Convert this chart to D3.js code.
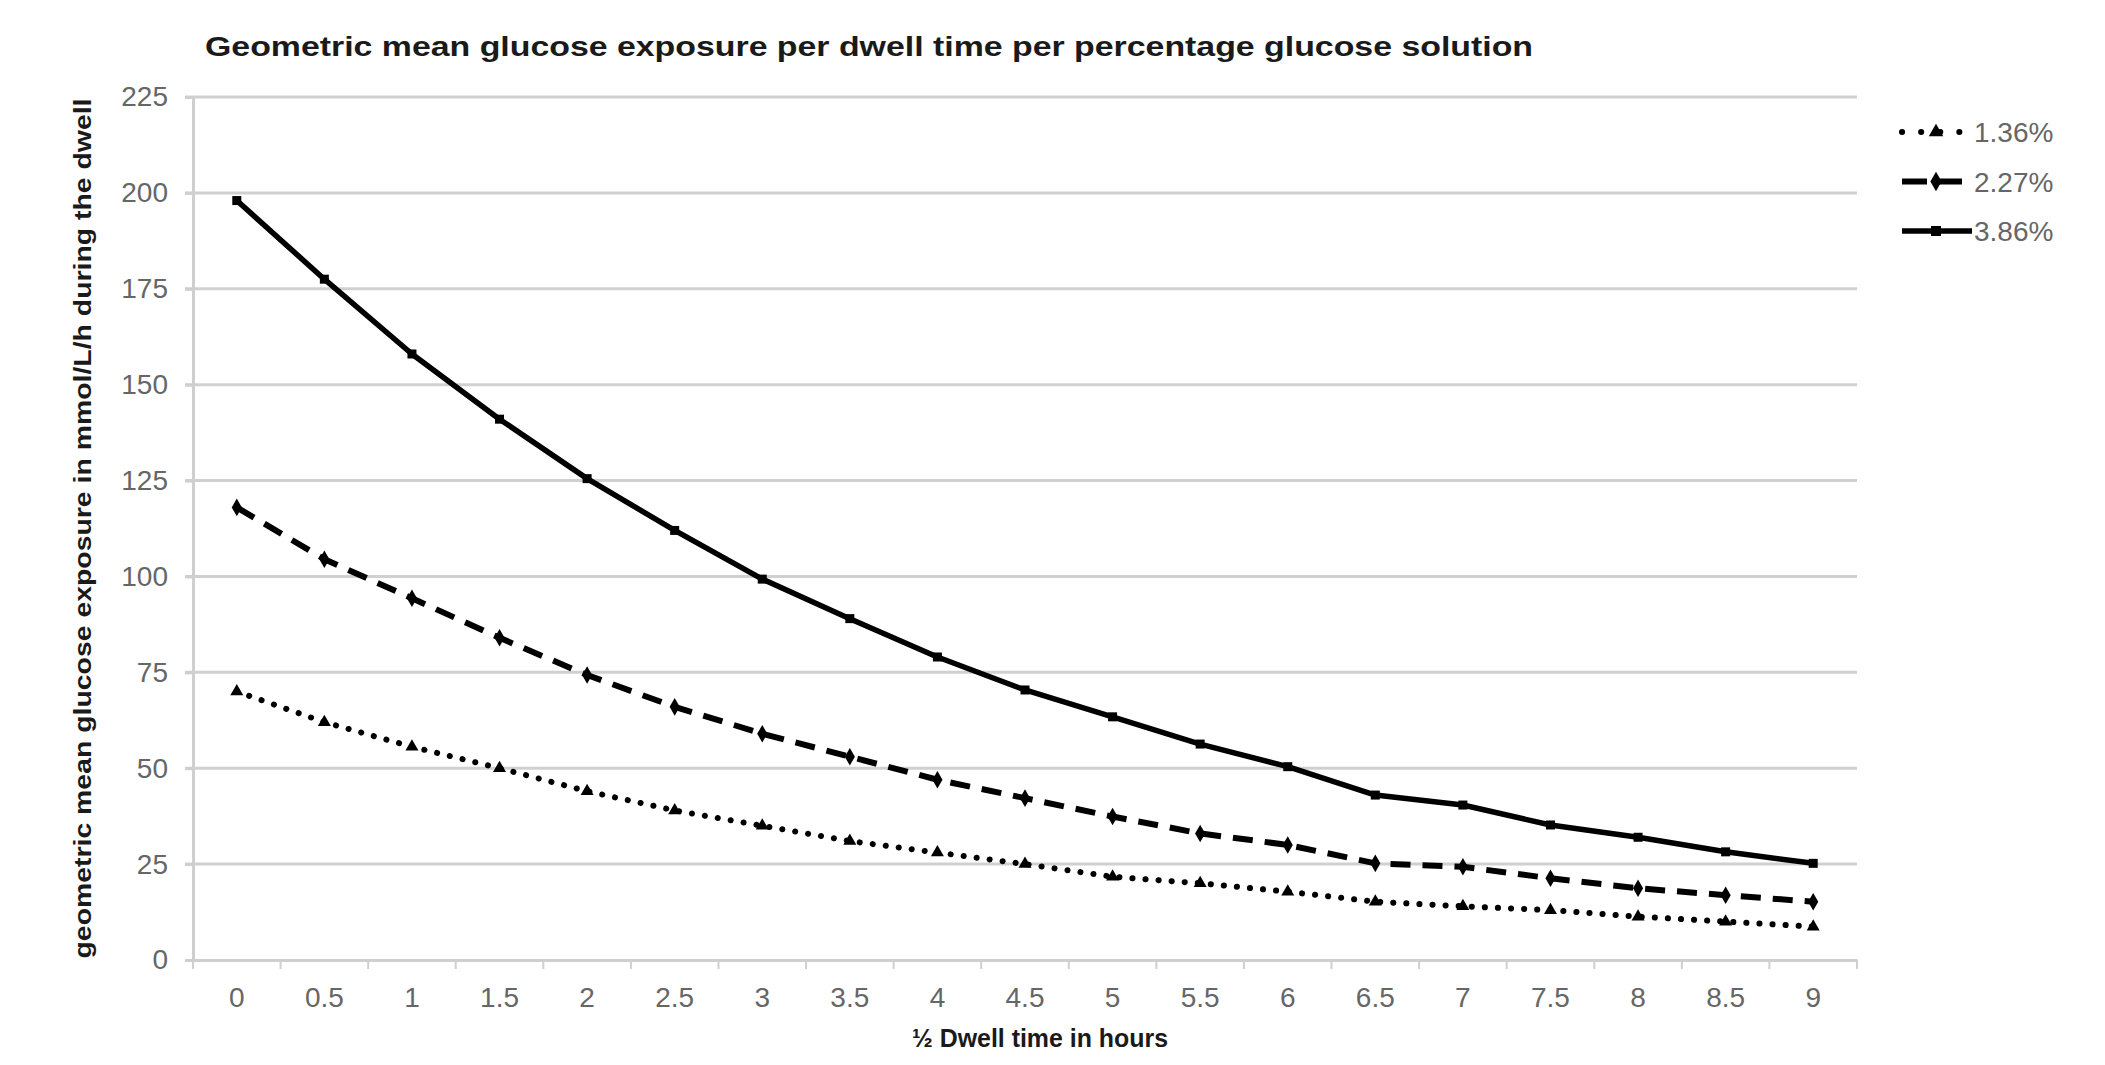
<!DOCTYPE html>
<html>
<head>
<meta charset="utf-8">
<script src="https://cdn.jsdelivr.net/npm/d3@7"></script>
<style>
  body { margin: 0; background: #fff; overflow: hidden; }
  svg { display: block; }
</style>
</head>
<body>
<div id="chart"></div>
<script>
// half dwell time categories
var hours = ["0","0.5","1","1.5","2","2.5","3","3.5","4","4.5","5","5.5","6","6.5","7","7.5","8","8.5","9"];
var yTicks = [0, 25, 50, 75, 100, 125, 150, 175, 200, 225];

// geometric mean glucose exposure, per solution
var glucose136 = [70, 62, 55.6, 50, 44, 39, 35, 31, 28, 25, 21.7, 20, 17.8, 15.2, 14, 13, 11.3, 10, 8.7];
var glucose227 = [118, 104.5, 94.3, 84, 74.3, 66, 59, 53, 47, 42.2, 37.4, 33, 30, 25.2, 24.3, 21.3, 18.7, 16.9, 15.2];
var glucose386 = [198, 177.5, 158, 141, 125.5, 112, 99.3, 89, 79, 70.4, 63.4, 56.3, 50.4, 43, 40.4, 35.2, 32, 28.2, 25.2];

var seriesNames = ["1.36%", "2.27%", "3.86%"];

var font = "Liberation Sans, Arial, sans-serif";
var width = 2105, height = 1065;
var margin = {top: 97, right: 248, bottom: 105, left: 193};
var innerWidth = width - margin.left - margin.right,
    innerHeight = height - margin.top - margin.bottom;

var series = [
  {name: seriesNames[0], values: glucose136, dash: "0.1 13", width: 6, cap: "round", marker: "triangle"},
  {name: seriesNames[1], values: glucose227, dash: "20 12", width: 6, cap: "butt", marker: "diamond"},
  {name: seriesNames[2], values: glucose386, dash: null, width: 5.5, cap: "butt", marker: "square"}
];

var svg = d3.select("#chart").append("svg")
    .attr("width", width)
    .attr("height", height)
    .attr("font-family", font);

var g = svg.append("g")
    .attr("transform", "translate(" + margin.left + "," + margin.top + ")");

var xScale = d3.scaleBand().domain(hours).range([0, innerWidth]);
var yScale = d3.scaleLinear().domain([0, 225]).range([innerHeight, 0]);

// gridlines
g.append("g").attr("class", "grid")
  .selectAll("line")
  .data(yTicks.filter(function(d){ return d > 0; }))
  .enter().append("line")
    .attr("x1", -8)
    .attr("x2", innerWidth)
    .attr("y1", function(d){ return yScale(d); })
    .attr("y2", function(d){ return yScale(d); })
    .attr("stroke", "#d0d0d0")
    .attr("stroke-width", 3);

// y axis
var yAxis = g.append("g")
    .call(d3.axisLeft(yScale).tickValues(yTicks).tickSize(8).tickPadding(17))
    .attr("font-size", 28)
    .attr("font-family", font);
yAxis.select(".domain").attr("stroke", "#cfcfcf").attr("stroke-width", 3);
yAxis.selectAll(".tick line").attr("stroke", "#cfcfcf").attr("stroke-width", 3);
yAxis.selectAll(".tick text").attr("fill", "#666");

// x axis, ticks at band edges
var xAxis = g.append("g")
    .attr("transform", "translate(0," + innerHeight + ")")
    .call(d3.axisBottom(xScale).tickSize(0).tickPadding(27))
    .attr("font-size", 28)
    .attr("font-family", font);
xAxis.select(".domain").attr("stroke", "#cfcfcf").attr("stroke-width", 3);
xAxis.selectAll(".tick text").attr("fill", "#666");
xAxis.append("g").selectAll("line")
  .data(hours.concat(["end"]))
  .enter().append("line")
    .attr("x1", function(d, i){ return i * xScale.step(); })
    .attr("x2", function(d, i){ return i * xScale.step(); })
    .attr("y1", 0)
    .attr("y2", 9)
    .attr("stroke", "#cfcfcf")
    .attr("stroke-width", 2);

var xPos = function(d, i){ return xScale(hours[i]) + xScale.bandwidth() / 2; };

var line = d3.line()
    .x(function(d, i){ return xPos(d, i); })
    .y(function(d){ return yScale(d); });

function drawMarker(sel, type, size) {
  if (type === "square") {
    sel.append("rect")
      .attr("x", -size / 2).attr("y", -size / 2)
      .attr("width", size).attr("height", size)
      .attr("fill", "#000");
  } else if (type === "diamond") {
    sel.append("path")
      .attr("d", d3.symbol().type(d3.symbolDiamond).size(size * size * 1.1)())
      .attr("fill", "#000");
  } else {
    sel.append("path")
      .attr("d", d3.symbol().type(d3.symbolTriangle).size(size * size * 0.9)())
      .attr("fill", "#000");
  }
}

series.forEach(function(s){
  g.append("path")
    .datum(s.values)
    .attr("fill", "none")
    .attr("stroke", "#000")
    .attr("stroke-width", s.width)
    .attr("stroke-linecap", s.cap)
    .attr("stroke-linejoin", "round")
    .attr("stroke-dasharray", s.dash)
    .attr("d", line);

  g.append("g").selectAll("g")
    .data(s.values)
    .enter().append("g")
      .attr("transform", function(d, i){ return "translate(" + xPos(d, i) + "," + yScale(d) + ")"; })
      .each(function(){ drawMarker(d3.select(this), s.marker, 9); });
});

// title
svg.append("text")
    .attr("x", 205)
    .attr("y", 56)
    .attr("textLength", 1328)
    .attr("lengthAdjust", "spacingAndGlyphs")
    .attr("font-size", 27)
    .attr("font-weight", "bold")
    .attr("fill", "#1a1a1a")
    .text("Geometric mean glucose exposure per dwell time per percentage glucose solution");

// axis titles
svg.append("text")
    .attr("transform", "translate(91," + (margin.top + innerHeight / 2) + ") rotate(-90)")
    .attr("text-anchor", "middle")
    .attr("textLength", 860)
    .attr("lengthAdjust", "spacingAndGlyphs")
    .attr("font-size", 23)
    .attr("font-weight", "bold")
    .attr("fill", "#1a1a1a")
    .text("geometric mean glucose exposure in mmol/L/h during the dwell");

svg.append("text")
    .attr("x", 1040)
    .attr("y", 1047)
    .attr("text-anchor", "middle")
    .attr("textLength", 256)
    .attr("lengthAdjust", "spacingAndGlyphs")
    .attr("font-size", 26)
    .attr("font-weight", "bold")
    .attr("fill", "#1a1a1a")
    .text("½ Dwell time in hours");

// legend
var legend = svg.append("g").attr("transform", "translate(1902,132)");
var items = legend.selectAll("g")
  .data(series)
  .enter().append("g")
    .attr("transform", function(d, i){ return "translate(0," + (i * 49.5) + ")"; });

items.append("line")
    .attr("x1", 0).attr("x2", function(d){ return d.dash ? 62 : 70; })
    .attr("y1", 0).attr("y2", 0)
    .attr("stroke", "#000")
    .attr("stroke-width", function(d){ return d.width; })
    .attr("stroke-linecap", function(d){ return d.cap; })
    .attr("stroke-dasharray", function(d){ return d.dash ? (d.marker === "triangle" ? "0.1 19" : "25 10") : null; });

items.append("g")
    .attr("transform", "translate(34,0)")
    .each(function(d){ drawMarker(d3.select(this), d.marker, 10); });

items.append("text")
    .attr("x", 72)
    .attr("y", 10)
    .attr("fill", "#666")
    .attr("font-size", 28)
    .text(function(d){ return d.name; });
</script>
</body>
</html>
